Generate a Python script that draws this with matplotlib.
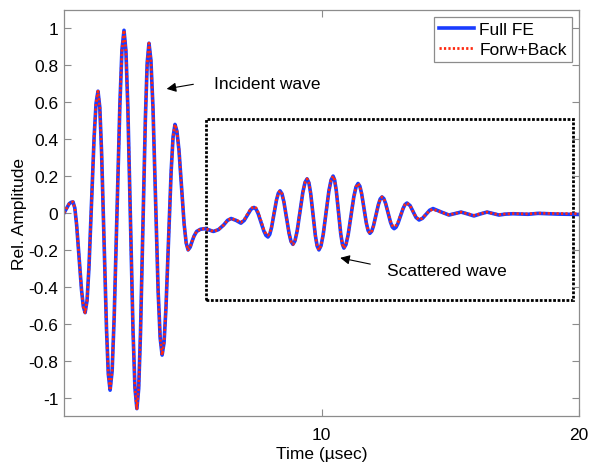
import matplotlib.pyplot as plt
from matplotlib.patches import Rectangle

plt.rcParams["font.family"] = ["Liberation Sans", "DejaVu Sans"]

# values (time in usec, relative amplitude)
time = [
    0.0, 0.1, 0.2, 0.28, 0.35, 0.42, 0.49, 0.585, 0.68, 0.75,
    0.82, 0.895, 0.97, 1.07, 1.17, 1.245, 1.32, 1.39, 1.46, 1.555,
    1.65, 1.72, 1.79, 1.87, 1.95, 2.06, 2.17, 2.25, 2.33, 2.405,
    2.48, 2.58, 2.68, 2.755, 2.83, 2.90, 2.97, 3.065, 3.16, 3.23,
    3.30, 3.375, 3.455, 3.555, 3.655, 3.735, 3.81, 3.885, 3.96, 4.06,
    4.16, 4.235, 4.31, 4.385, 4.465, 4.565, 4.665, 4.745, 4.82, 4.90,
    4.97, 5.05, 5.15, 5.30, 5.45, 5.60, 5.80, 6.0, 6.2, 6.35,
    6.49, 6.68, 6.87, 7.0, 7.13, 7.26, 7.38, 7.46, 7.54, 7.65,
    7.76, 7.84, 7.92, 7.99, 8.06, 8.155, 8.25, 8.32, 8.39, 8.465,
    8.54, 8.64, 8.74, 8.815, 8.89, 8.97, 9.055, 9.165, 9.275, 9.36,
    9.44, 9.51, 9.58, 9.67, 9.76, 9.83, 9.90, 9.98, 10.065, 10.175,
    10.285, 10.37, 10.45, 10.51, 10.575, 10.66, 10.745, 10.81, 10.87, 10.95,
    11.035, 11.145, 11.255, 11.34, 11.42, 11.49, 11.56, 11.65, 11.74, 11.81,
    11.88, 11.95, 12.02, 12.115, 12.21, 12.28, 12.35, 12.42, 12.49, 12.585,
    12.68, 12.75, 12.82, 12.895, 12.97, 13.07, 13.17, 13.245, 13.32, 13.44,
    13.555, 13.67, 13.79, 13.92, 14.06, 14.2, 14.33, 14.64, 14.95, 15.18,
    15.42, 15.67, 15.92, 16.17, 16.43, 16.66, 16.89, 17.15, 17.44, 18.02,
    18.41, 19.2, 20.0,
]
full_fe = [
    0.0, 0.025, 0.05, 0.058, 0.06, 0.027, -0.064, -0.24, -0.416, -0.507,
    -0.54, -0.475, -0.293, 0.06, 0.413, 0.595, 0.66, 0.572, 0.326, -0.15,
    -0.626, -0.872, -0.96, -0.854, -0.558, 0.015, 0.588, 0.884, 0.99, 0.878,
    0.568, -0.035, -0.638, -0.948, -1.06, -0.952, -0.652, -0.07, 0.512, 0.812,
    0.92, 0.828, 0.572, 0.075, -0.422, -0.678, -0.77, -0.702, -0.513, -0.145,
    0.223, 0.412, 0.48, 0.443, 0.34, 0.14, -0.06, -0.163, -0.20, -0.185,
    -0.155, -0.125, -0.10, -0.088, -0.085, -0.09, -0.10, -0.09, -0.065, -0.04,
    -0.03, -0.04, -0.055, -0.04, -0.01, 0.02, 0.03, 0.021, -0.003, -0.05,
    -0.097, -0.121, -0.13, -0.116, -0.079, -0.005, 0.069, 0.106, 0.12, 0.104,
    0.06, -0.025, -0.11, -0.154, -0.17, -0.151, -0.097, 0.008, 0.112, 0.166,
    0.185, 0.164, 0.106, -0.008, -0.121, -0.179, -0.20, -0.178, -0.118, 0.0,
    0.118, 0.178, 0.20, 0.179, 0.12, 0.005, -0.11, -0.169, -0.19, -0.171,
    -0.118, -0.015, 0.088, 0.141, 0.16, 0.145, 0.104, 0.025, -0.054, -0.095,
    -0.11, -0.099, -0.069, -0.012, 0.046, 0.076, 0.087, 0.078, 0.052, 0.001,
    -0.05, -0.076, -0.085, -0.077, -0.056, -0.016, 0.025, 0.046, 0.054, 0.04,
    0.008, -0.024, -0.038, -0.029, -0.007, 0.015, 0.024, 0.006, -0.011, -0.003,
    0.005, -0.005, -0.016, -0.005, 0.005, -0.003, -0.011, -0.006, -0.004, -0.007,
    -0.002, -0.006, -0.008,
]
forw_back = [
    0.0, 0.025, 0.05, 0.058, 0.06, 0.027, -0.064, -0.24, -0.416, -0.507,
    -0.54, -0.475, -0.293, 0.06, 0.413, 0.595, 0.66, 0.572, 0.326, -0.15,
    -0.626, -0.872, -0.96, -0.854, -0.558, 0.015, 0.588, 0.884, 0.99, 0.878,
    0.568, -0.035, -0.638, -0.948, -1.06, -0.952, -0.652, -0.07, 0.512, 0.812,
    0.92, 0.828, 0.572, 0.075, -0.422, -0.678, -0.77, -0.702, -0.513, -0.145,
    0.223, 0.412, 0.48, 0.443, 0.34, 0.14, -0.06, -0.163, -0.20, -0.185,
    -0.155, -0.125, -0.10, -0.088, -0.085, -0.09, -0.10, -0.09, -0.065, -0.04,
    -0.03, -0.038, -0.05, -0.035, -0.005, 0.025, 0.035, 0.027, 0.003, -0.044,
    -0.09, -0.113, -0.12, -0.108, -0.073, 0.0, 0.071, 0.107, 0.12, 0.104,
    0.06, -0.025, -0.11, -0.154, -0.17, -0.151, -0.097, 0.008, 0.112, 0.166,
    0.185, 0.164, 0.106, -0.008, -0.121, -0.179, -0.20, -0.178, -0.118, 0.0,
    0.118, 0.178, 0.20, 0.179, 0.12, 0.005, -0.11, -0.169, -0.19, -0.171,
    -0.118, -0.015, 0.088, 0.141, 0.16, 0.145, 0.104, 0.025, -0.054, -0.095,
    -0.11, -0.099, -0.069, -0.012, 0.046, 0.076, 0.087, 0.078, 0.052, 0.001,
    -0.045, -0.068, -0.075, -0.068, -0.05, -0.013, 0.025, 0.046, 0.054, 0.04,
    0.008, -0.022, -0.036, -0.028, -0.007, 0.013, 0.02, 0.005, -0.01, -0.003,
    0.005, -0.004, -0.013, -0.004, 0.005, -0.003, -0.009, -0.005, -0.003, -0.005,
    -0.001, -0.003, -0.004,
]
y_ticks = [-1, -0.8, -0.6, -0.4, -0.2, 0, 0.2, 0.4, 0.6, 0.8, 1]
y_tick_labels = ["-1", "-0.8", "-0.6", "-0.4", "-0.2", "0",
                 "0.2", "0.4", "0.6", "0.8", "1"]
x_ticks = [10, 20]

GRAY = "#8c8c8c"
FONT_SIZE = 12.5


def main():
    fig = plt.figure(figsize=(5.91, 4.64), dpi=100)
    ax = fig.add_axes([0.1083, 0.1013, 0.8714, 0.875])

    ax.plot(time, full_fe, color="#1a3cff", lw=2.6, label="Full FE")
    ax.plot(time, forw_back, color="#ff2a10", lw=2.0, dashes=(0.8, 0.8),
            label="Forw+Back")

    ax.add_patch(Rectangle((5.5, -0.47), 14.27, 0.98, fill=False,
                           edgecolor="black", lw=2, linestyle=(0, (1, 0.6))))

    ax.annotate("", xy=(3.88, 0.67), xytext=(5.13, 0.70),
                arrowprops=dict(arrowstyle="-|>", color="black", lw=0.8,
                                mutation_scale=14))
    ax.text(5.83, 0.70, "Incident wave", fontsize=FONT_SIZE, va="center",
            ha="left")

    ax.annotate("", xy=(10.62, -0.24), xytext=(12.0, -0.28),
                arrowprops=dict(arrowstyle="-|>", color="black", lw=0.8,
                                mutation_scale=14))
    ax.text(12.54, -0.31, "Scattered wave", fontsize=FONT_SIZE, va="center",
            ha="left")

    ax.set_xlim(0, 20)
    ax.set_ylim(-1.1, 1.1)
    ax.set_xticks(x_ticks)
    ax.set_xticklabels([str(t) for t in x_ticks])
    ax.set_yticks(y_ticks)
    ax.set_yticklabels(y_tick_labels)
    ax.tick_params(direction="in", length=5, width=0.8, color=GRAY,
                   labelsize=FONT_SIZE, top=True, right=True)
    ax.tick_params(axis="x", pad=8)
    ax.tick_params(axis="y", pad=4)
    for spine in ax.spines.values():
        spine.set_color(GRAY)
        spine.set_linewidth(0.9)

    ax.set_xlabel("Time (\u00b5sec)", fontsize=FONT_SIZE, labelpad=3)
    ax.set_ylabel("Rel. Amplitude", fontsize=FONT_SIZE, labelpad=1)

    legend = ax.legend(loc="upper right", fontsize=FONT_SIZE, fancybox=False,
                       framealpha=1, borderpad=0.3, handlelength=2.0,
                       handletextpad=0.3, labelspacing=0.25,
                       borderaxespad=0.4)
    legend.get_frame().set_edgecolor(GRAY)
    legend.get_frame().set_linewidth(0.9)

    fig.savefig("out.png", dpi=100)


if __name__ == "__main__":
    main()
